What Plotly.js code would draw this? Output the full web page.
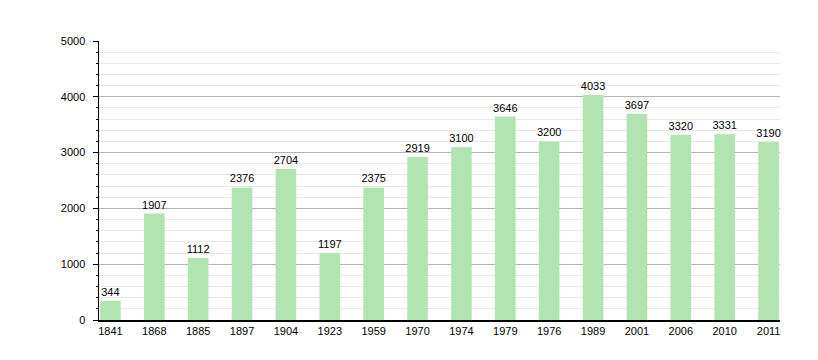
<!DOCTYPE html>
<html><head><meta charset="utf-8">
<script src="https://cdn.plot.ly/plotly-3.0.1.min.js"></script>
<style>html,body{margin:0;padding:0;background:#fff}#c{width:818px;height:360px}</style>
</head><body><div id="c"></div>
<script>
const years = ["1841","1868","1885","1897","1904","1923","1959","1970","1974","1979","1976","1989","2001","2006","2010","2011"];
const population = [344,1907,1112,2376,2704,1197,2375,2919,3100,3646,3200,4033,3697,3320,3331,3190];
const yTicks = [0,1000,2000,3000,4000,5000];

const trace = {
  type:'bar', x:years, y:population, width:0.47,
  marker:{color:'rgb(178,228,178)', line:{width:0}},
  text:population.map(String), textposition:'outside', cliponaxis:false, constraintext:'none',
  textfont:{family:'Liberation Sans, Arial, sans-serif', size:11, color:'#000'},
  hoverinfo:'x+y'
};
const layout = {
  width:818, height:360,
  margin:{l:99, r:38, t:41, b:40},
  paper_bgcolor:'#fff', plot_bgcolor:'#fff',
  font:{family:'Liberation Sans, Arial, sans-serif', size:11, color:'#000'},
  showlegend:false,
  xaxis:{type:'category', range:[-0.26,15.26], showline:true, linecolor:'#000', linewidth:1.5,
    ticks:'', showgrid:false, zeroline:false, tickfont:{size:11}, fixedrange:true},
  yaxis:{range:[0,5000], tickvals:yTicks, ticktext:yTicks.map(String), showline:true, linecolor:'#000', linewidth:1.5,
    ticks:'outside', ticklen:5, tickcolor:'#000', ticklabelstandoff:5, showgrid:true, gridcolor:'#b4b4b4', gridwidth:1,
    zeroline:false, tickfont:{size:11},
    minor:{dtick:200, tick0:0, ticks:'outside', ticklen:2, tickcolor:'#000', showgrid:true, gridcolor:'#e8e8e8', gridwidth:1}},
  bargap:0.5
};
Plotly.newPlot('c',[trace],layout,{displayModeBar:false,staticPlot:true});
</script></body></html>
